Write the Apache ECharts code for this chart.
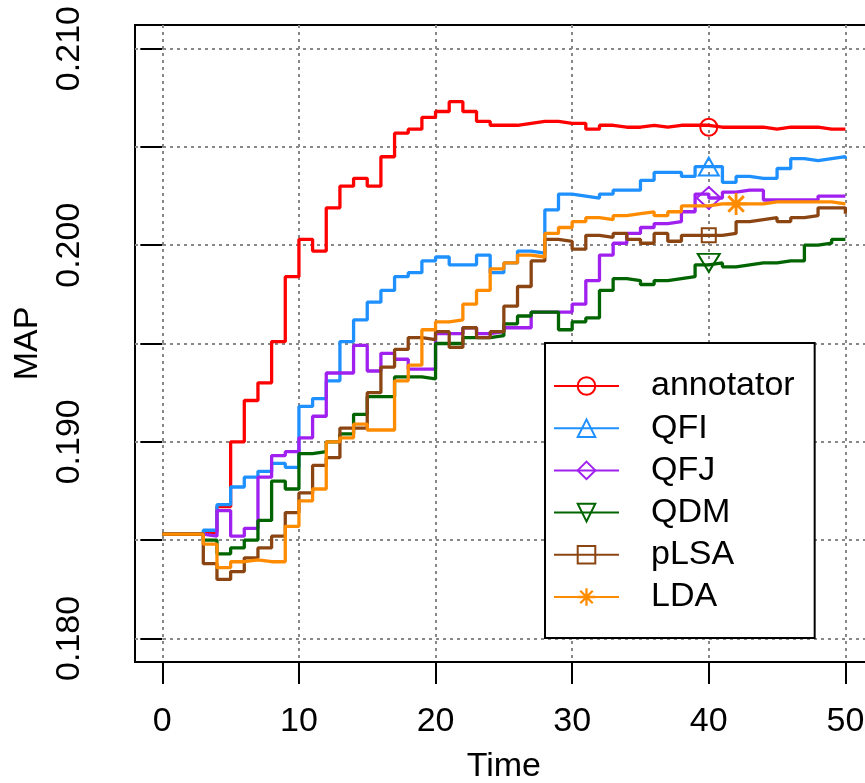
<!DOCTYPE html>
<html><head><meta charset="utf-8">
<script src="https://cdn.jsdelivr.net/npm/echarts@6/dist/echarts.min.js"></script>
<style>html,body{margin:0;padding:0;background:#fff}#c{width:865px;height:783px}</style>
</head><body><div id="c"></div>
<script>
const time = [0,1,2,3,4,5,6,7,8,9,10,11,12,13,14,15,16,17,18,19,20,21,22,23,24,25,26,27,28,29,30,31,32,33,34,35,36,37,38,39,40,41,42,43,44,45,46,47,48,49,50];
const seriesNames = ['annotator','QFI','QFJ','QDM','pLSA','LDA'];
const annotator = [0.1853,0.1853,0.1853,0.1854,0.1867,0.1900,0.1921,0.1930,0.1951,0.1984,0.2003,0.1997,0.2019,0.2030,0.2034,0.2030,0.2045,0.2057,0.2059,0.2065,0.2068,0.2073,0.2068,0.2063,0.2061,0.2061,0.2062,0.2063,0.2063,0.2062,0.2062,0.2059,0.2061,0.2060,0.2060,0.2061,0.2060,0.2061,0.2061,0.2061,0.2060,0.2060,0.2060,0.2060,0.2059,0.2060,0.2060,0.2060,0.2059,0.2059,0.2059];
const QFI = [0.1853,0.1853,0.1853,0.1855,0.1868,0.1877,0.1882,0.1885,0.1889,0.1887,0.1918,0.1922,0.1931,0.1951,0.1962,0.1971,0.1977,0.1984,0.1986,0.1992,0.1994,0.1990,0.1990,0.1995,0.1986,0.1991,0.1997,0.1996,0.2018,0.2026,0.2025,0.2024,0.2026,0.2028,0.2028,0.2033,0.2037,0.2037,0.2035,0.2040,0.2040,0.2032,0.2035,0.2034,0.2034,0.2039,0.2044,0.2043,0.2044,0.2045,0.2044];
const QFJ = [0.1853,0.1853,0.1853,0.1852,0.1865,0.1852,0.1856,0.1882,0.1893,0.1895,0.1902,0.1913,0.1935,0.1935,0.1949,0.1936,0.1945,0.1942,0.1937,0.1937,0.1955,0.1955,0.1958,0.1955,0.1956,0.1958,0.1958,0.1966,0.1966,0.1966,0.1970,0.1982,0.1995,0.2001,0.2006,0.2009,0.2011,0.2012,0.2017,0.2026,0.2024,0.2027,0.2028,0.2028,0.2023,0.2023,0.2023,0.2023,0.2025,0.2025,0.2025];
const QDM = [0.1853,0.1853,0.1853,0.1850,0.1843,0.1846,0.1850,0.1860,0.1880,0.1876,0.1894,0.1895,0.1900,0.1904,0.1914,0.1923,0.1923,0.1933,0.1933,0.1932,0.1950,0.1950,0.1953,0.1953,0.1954,0.1960,0.1964,0.1966,0.1966,0.1957,0.1961,0.1963,0.1977,0.1983,0.1982,0.1980,0.1982,0.1983,0.1984,0.1990,0.1991,0.1989,0.1990,0.1991,0.1991,0.1992,0.1992,0.2000,0.2001,0.2003,0.2003];
const pLSA = [0.1853,0.1853,0.1853,0.1838,0.1830,0.1834,0.1841,0.1846,0.1852,0.1864,0.1874,0.1888,0.1892,0.1907,0.1907,0.1925,0.1938,0.1947,0.1953,0.1952,0.1956,0.1948,0.1958,0.1953,0.1956,0.1969,0.1979,0.1992,0.2003,0.2002,0.1998,0.2005,0.2004,0.2006,0.2003,0.2001,0.2006,0.2002,0.2005,0.2005,0.2005,0.2006,0.2012,0.2013,0.2014,0.2012,0.2014,0.2015,0.2019,0.2019,0.2016];
const LDA = [0.1853,0.1853,0.1853,0.1848,0.1836,0.1839,0.1840,0.1839,0.1839,0.1857,0.1870,0.1876,0.1900,0.1902,0.1909,0.1906,0.1906,0.1931,0.1939,0.1957,0.1961,0.1962,0.1970,0.1977,0.1988,0.1991,0.1995,0.1994,0.2006,0.2009,0.2012,0.2014,0.2013,0.2015,0.2016,0.2017,0.2015,0.2017,0.2020,0.2020,0.2021,0.2021,0.2021,0.2021,0.2022,0.2022,0.2022,0.2022,0.2022,0.2021,0.2021];
const markerIndex = [40,40,40,40,40,42];
const xTicks = [0,10,20,30,40,50];
const yTicks = [0.180,0.185,0.190,0.195,0.200,0.205,0.210];
const yLabelTicks = [0.180,0.190,0.200,0.210];

const values = [annotator,QFI,QFJ,QDM,pLSA,LDA];
const colors = ['#FF0000','#1E90FF','#A020F0','#006400','#8B4513','#FF8C00'];
const ASTER = 'path://M-1.3,-10L1.3,-10L1.3,10L-1.3,10Z M-10,-1.3L10,-1.3L10,1.3L-10,1.3Z M-6.15,-7.99L7.99,6.15L6.15,7.99L-7.99,-6.15Z M-6.15,7.99L-7.99,6.15L6.15,-7.99L7.99,-6.15Z';
const symbols = ['circle','triangle','diamond','triangle','rect',ASTER];
const symbolRotates = [0,0,0,180,0,0];
const symbolSizes = [17,[20,18],[24,22],[22,18],14,22];
const FONT = 'Liberation Sans, Arial, sans-serif';

const chart = echarts.init(document.getElementById('c'), null, {renderer:'canvas'});
const gridLine = {show:true, lineStyle:{color:'#888', width:2, type:[3,4]}};
chart.setOption({
  animation:false,
  backgroundColor:'#fff',
  textStyle:{fontFamily:FONT},
  grid:{left:135, top:25, right:-7.7, bottom:121, show:true, borderColor:'#000', borderWidth:2, backgroundColor:'transparent', containLabel:false, outerBoundsMode:'none'},
  xAxis:{type:'value', min:-2, max:52,
    axisLine:{show:false},
    axisTick:{show:true, length:22, lineStyle:{color:'#000', width:2}, customValues:xTicks},
    axisLabel:{customValues:xTicks, fontSize:34, color:'#000', margin:43, fontFamily:FONT},
    splitLine:gridLine,
    name:'Time', nameLocation:'middle', nameGap:88, nameTextStyle:{fontSize:34, color:'#000', fontFamily:FONT}},
  yAxis:{type:'value', min:0.1788, max:0.2112,
    axisLine:{show:false},
    axisTick:{show:true, length:22, lineStyle:{color:'#000', width:2}, customValues:yTicks},
    axisLabel:{customValues:yLabelTicks, rotate:90, fontSize:34, color:'#000', margin:48, fontFamily:FONT, formatter:v=>Number(v).toFixed(3)},
    splitLine:gridLine,
    name:'MAP', nameLocation:'middle', nameGap:90, nameRotate:90, nameTextStyle:{fontSize:34, color:'#000', fontFamily:FONT}},
  legend:{orient:'vertical', left:545, top:343, backgroundColor:'#fff', borderColor:'#000', borderWidth:2,
    padding:[26,20,24,8], itemWidth:65, itemHeight:22, itemGap:8.2,
    textStyle:{fontSize:34, lineHeight:34, color:'#000', fontFamily:FONT, padding:[0,0,0,27]},
    data:seriesNames},
  series: seriesNames.map((n,i)=>({
    name:n, type:'line', step:'end', symbol:symbols[i], symbolRotate:symbolRotates[i], symbolSize:symbolSizes[i],
    showSymbol:true, showAllSymbol:true, silent:true, z:2+i,
    lineStyle:{color:colors[i], width:3.3},
    itemStyle:{color: i===5 ? colors[i] : 'rgba(0,0,0,0)', borderColor:colors[i], borderWidth: i===5 ? 0 : 2},
    data: values[i].map((v,j)=> j===markerIndex[i] ? [time[j], v] : {value:[time[j], v], symbol:'none'})
  }))
});
</script></body></html>
